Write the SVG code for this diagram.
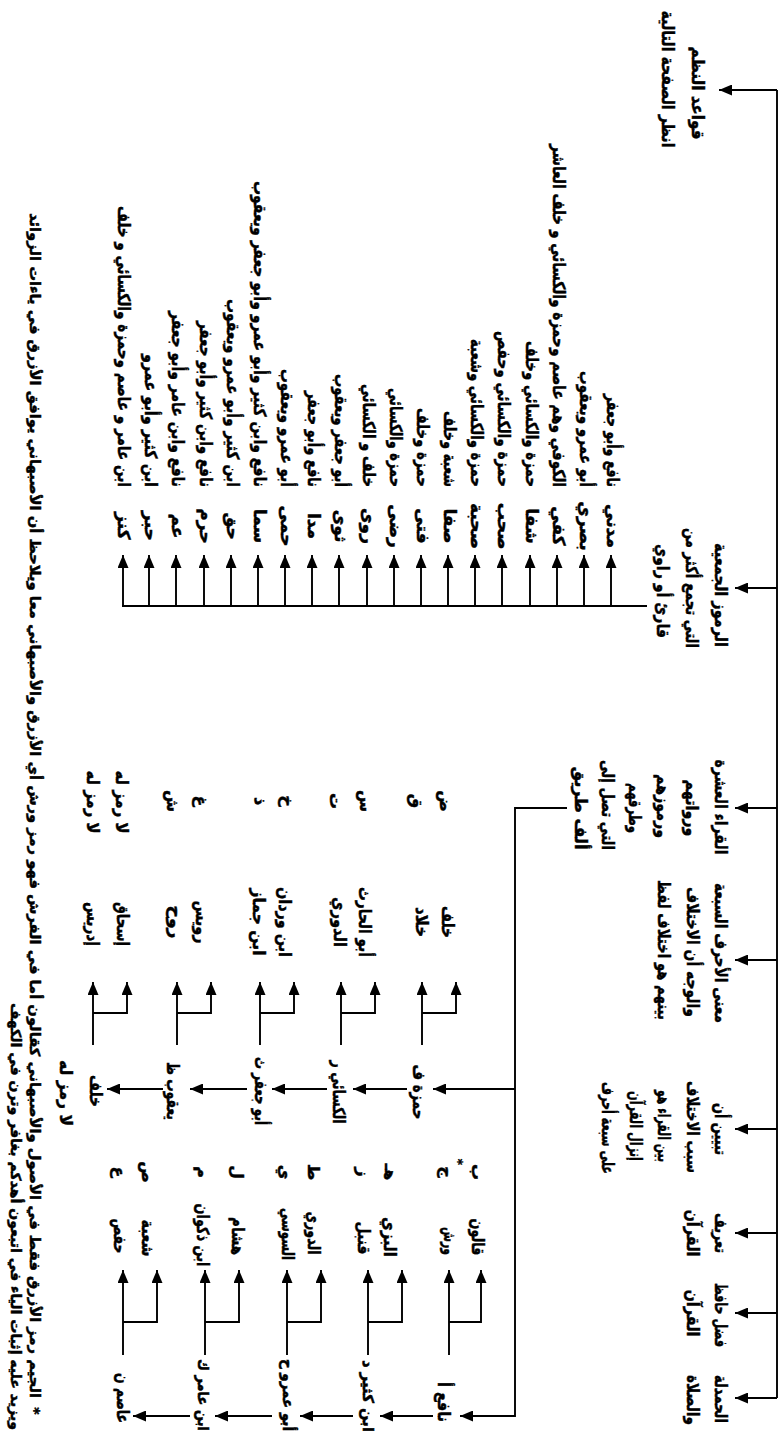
<svg xmlns="http://www.w3.org/2000/svg" width="782" height="1442" viewBox="0 0 782 1442">
<style>
text{font-family:"DejaVu Sans",sans-serif;font-weight:bold;font-size:17px;fill:#000;stroke:#000;stroke-width:0.45}
.c{text-anchor:middle}
.e{text-anchor:end}
.s{font-size:16px}
.r{font-size:15px;stroke-width:0.55}
.f{font-size:14px;stroke-width:0.5}
.ln{fill:none;stroke:#000;stroke-width:1.9}
.ar{fill:none;stroke:#000;stroke-width:1.9;marker-end:url(#ah)}
</style>
<defs>
<marker id="ah" markerUnits="userSpaceOnUse" markerWidth="14" markerHeight="11" refX="13" refY="5.5" orient="auto">
<path d="M0,0 L13,5.5 L0,11 z" fill="#000"/>
</marker>
</defs>
<rect width="782" height="1442" fill="#fff"/>
<g id="connectors">
<line class="ln" x1="777" y1="90" x2="777" y2="1398"/>
<path class="ar" d="M777,90 H719"/>
<path class="ar" d="M777,588 H735"/>
<path class="ar" d="M777,808 H735"/>
<path class="ar" d="M777,960 H735"/>
<path class="ar" d="M777,1129 H735"/>
<path class="ar" d="M777,1233 H735"/>
<path class="ar" d="M777,1313 H735"/>
<path class="ar" d="M777,1398 H735"/>
<path class="ln" d="M647,606 H122"/>
<path class="ar" d="M611,606 V555"/><path class="ar" d="M584,606 V555"/><path class="ar" d="M557,606 V555"/><path class="ar" d="M530,606 V555"/><path class="ar" d="M502,606 V555"/><path class="ar" d="M475,606 V555"/><path class="ar" d="M448,606 V555"/><path class="ar" d="M421,606 V555"/><path class="ar" d="M394,606 V555"/><path class="ar" d="M367,606 V555"/><path class="ar" d="M339,606 V555"/><path class="ar" d="M312,606 V555"/><path class="ar" d="M285,606 V555"/><path class="ar" d="M258,606 V555"/><path class="ar" d="M231,606 V555"/><path class="ar" d="M204,606 V555"/><path class="ar" d="M176,606 V555"/><path class="ar" d="M149,606 V555"/><path class="ar" d="M123,606 V555"/>
<path class="ar" d="M567,808 H515 V1416 H460"/>
<path class="ar" d="M515,1089 H433"/>
<path class="ar" d="M407,1089 H353"/><path class="ar" d="M327,1089 H272"/><path class="ar" d="M247,1089 H190"/><path class="ar" d="M163,1089 H107"/>
<path class="ar" d="M433,1416 H380"/><path class="ar" d="M353,1416 H300"/><path class="ar" d="M272,1416 H215"/><path class="ar" d="M190,1416 H133"/>
<path class="ar" d="M422,1045 V982"/><path class="ar" d="M422,1013 H456 V982"/>
<path class="ar" d="M341,1045 V982"/><path class="ar" d="M341,1013 H375 V982"/>
<path class="ar" d="M260,1045 V982"/><path class="ar" d="M260,1013 H294 V982"/>
<path class="ar" d="M177,1045 V982"/><path class="ar" d="M177,1013 H211 V982"/>
<path class="ar" d="M93,1045 V982"/><path class="ar" d="M93,1013 H127 V982"/>
<path class="ar" d="M449,1355 V1270"/><path class="ar" d="M449,1322 H481 V1270"/>
<path class="ar" d="M368,1355 V1270"/><path class="ar" d="M368,1322 H402 V1270"/>
<path class="ar" d="M287,1355 V1270"/><path class="ar" d="M287,1322 H321 V1270"/>
<path class="ar" d="M205,1355 V1270"/><path class="ar" d="M205,1322 H239 V1270"/>
<path class="ar" d="M123,1355 V1270"/><path class="ar" d="M123,1322 H157 V1270"/>
</g>
<g id="n-qawaid">
<text class="c" x="692" y="93" transform="rotate(90 692 93)" textLength="93" lengthAdjust="spacingAndGlyphs">قواعد النظم</text>
<text class="c" x="662" y="79" transform="rotate(90 662 79)" textLength="137" lengthAdjust="spacingAndGlyphs">انظر الصفحة التالية</text>
</g>
<g id="n-rumuz">
<text class="c" x="715" y="595" transform="rotate(90 715 595)" textLength="104" lengthAdjust="spacingAndGlyphs">الرموز الجمعية</text>
<text class="c" x="686" y="588" transform="rotate(90 686 588)" textLength="120" lengthAdjust="spacingAndGlyphs">التي تجمع أكثر من</text>
<text class="c" x="657" y="591" transform="rotate(90 657 591)" textLength="94" lengthAdjust="spacingAndGlyphs">قارئ أو راوي</text>
</g>
<g id="n-qurra">
<text class="c" x="715" y="807" transform="rotate(90 715 807)" textLength="95" lengthAdjust="spacingAndGlyphs">القراء العشرة</text>
<text class="c" x="686" y="808" transform="rotate(90 686 808)" textLength="57" lengthAdjust="spacingAndGlyphs">ورواتهم</text>
<text class="c" x="657" y="806" transform="rotate(90 657 806)" textLength="64" lengthAdjust="spacingAndGlyphs">ورموزهم</text>
<text class="c" x="629" y="808" transform="rotate(90 629 808)" textLength="50" lengthAdjust="spacingAndGlyphs">وطرقهم</text>
<text class="c" x="602" y="805" transform="rotate(90 602 805)" textLength="90" lengthAdjust="spacingAndGlyphs">التي تصل إلى</text>
<text class="c" x="575" y="808" transform="rotate(90 575 808)" textLength="83" lengthAdjust="spacingAndGlyphs">ألف طريق</text>
</g>
<g id="n-maana">
<text class="c" x="715" y="953" transform="rotate(90 715 953)" textLength="140" lengthAdjust="spacingAndGlyphs">معنى الأحرف السبعة</text>
<text class="c" x="687" y="952" transform="rotate(90 687 952)" textLength="130" lengthAdjust="spacingAndGlyphs">والوجه أن الاختلاف</text>
<text class="c" x="658" y="950" transform="rotate(90 658 950)" textLength="140" lengthAdjust="spacingAndGlyphs">بينهم هو اختلاف لفظ</text>
</g>
<g id="n-tabyin">
<text class="c" x="715" y="1129" transform="rotate(90 715 1129)" textLength="52" lengthAdjust="spacingAndGlyphs">تبيين أن</text>
<text class="c" x="687" y="1127" transform="rotate(90 687 1127)" textLength="92" lengthAdjust="spacingAndGlyphs">سبب الاختلاف</text>
<text class="c" x="658" y="1126" transform="rotate(90 658 1126)" textLength="72" lengthAdjust="spacingAndGlyphs">بين القراء هو</text>
<text class="c" x="630" y="1126" transform="rotate(90 630 1126)" textLength="70" lengthAdjust="spacingAndGlyphs">إنزال القرآن</text>
<text class="c" x="602" y="1128" transform="rotate(90 602 1128)" textLength="92" lengthAdjust="spacingAndGlyphs">على سبعة أحرف</text>
</g>
<g id="n-tarif">
<text class="c" x="715" y="1233" transform="rotate(90 715 1233)" textLength="40" lengthAdjust="spacingAndGlyphs">تعريف</text>
<text class="c" x="687" y="1233" transform="rotate(90 687 1233)" textLength="47" lengthAdjust="spacingAndGlyphs">القرآن</text>
</g>
<g id="n-fadl">
<text class="c" x="715" y="1315" transform="rotate(90 715 1315)" textLength="64" lengthAdjust="spacingAndGlyphs">فضل حافظ</text>
<text class="c" x="687" y="1313" transform="rotate(90 687 1313)" textLength="47" lengthAdjust="spacingAndGlyphs">القرآن</text>
</g>
<g id="n-hamdala">
<text class="c" x="715" y="1399" transform="rotate(90 715 1399)" textLength="48" lengthAdjust="spacingAndGlyphs">الحمدلة</text>
<text class="c" x="687" y="1400" transform="rotate(90 687 1400)" textLength="50" lengthAdjust="spacingAndGlyphs">والصلاة</text>
</g>
<g id="rumuz-columns">
<g id="col-1"><text class="c" x="607" y="526" transform="rotate(90 607 526)">مدني</text><text class="e" x="607" y="487" transform="rotate(90 607 487)" textLength="93" lengthAdjust="spacingAndGlyphs">نافع وأبو جعفر</text></g>
<g id="col-2"><text class="c" x="580" y="526" transform="rotate(90 580 526)">بصري</text><text class="e" x="580" y="487" transform="rotate(90 580 487)" textLength="116" lengthAdjust="spacingAndGlyphs">أبو عمرو ويعقوب</text></g>
<g id="col-3"><text class="c" x="553" y="526" transform="rotate(90 553 526)">كفي</text><text class="e" x="553" y="487" transform="rotate(90 553 487)" textLength="343" lengthAdjust="spacingAndGlyphs">الكوفي وهم عاصم وحمزة والكسائي و خلف العاشر</text></g>
<g id="col-4"><text class="c" x="526" y="526" transform="rotate(90 526 526)">شفا</text><text class="e" x="526" y="487" transform="rotate(90 526 487)" textLength="146" lengthAdjust="spacingAndGlyphs">حمزة والكسائي وخلف</text></g>
<g id="col-5"><text class="c" x="498" y="526" transform="rotate(90 498 526)">صحب</text><text class="e" x="498" y="487" transform="rotate(90 498 487)" textLength="156" lengthAdjust="spacingAndGlyphs">حمزة والكسائي وحفص</text></g>
<g id="col-6"><text class="c" x="471" y="526" transform="rotate(90 471 526)">صحبة</text><text class="e" x="471" y="487" transform="rotate(90 471 487)" textLength="148" lengthAdjust="spacingAndGlyphs">حمزة والكسائي وشعبة</text></g>
<g id="col-7"><text class="c" x="444" y="526" transform="rotate(90 444 526)">صفا</text><text class="e" x="444" y="487" transform="rotate(90 444 487)" textLength="76" lengthAdjust="spacingAndGlyphs">شعبة وخلف</text></g>
<g id="col-8"><text class="c" x="417" y="526" transform="rotate(90 417 526)">فتى</text><text class="e" x="417" y="487" transform="rotate(90 417 487)" textLength="79" lengthAdjust="spacingAndGlyphs">حمزة وخلف</text></g>
<g id="col-9"><text class="c" x="390" y="526" transform="rotate(90 390 526)">رضى</text><text class="e" x="390" y="487" transform="rotate(90 390 487)" textLength="99" lengthAdjust="spacingAndGlyphs">حمزة والكسائي</text></g>
<g id="col-10"><text class="c" x="363" y="526" transform="rotate(90 363 526)">روى</text><text class="e" x="363" y="487" transform="rotate(90 363 487)" textLength="103" lengthAdjust="spacingAndGlyphs">خلف و الكسائي</text></g>
<g id="col-11"><text class="c" x="335" y="526" transform="rotate(90 335 526)">ثوى</text><text class="e" x="335" y="487" transform="rotate(90 335 487)" textLength="113" lengthAdjust="spacingAndGlyphs">أبو جعفر ويعقوب</text></g>
<g id="col-12"><text class="c" x="308" y="526" transform="rotate(90 308 526)">مدا</text><text class="e" x="308" y="487" transform="rotate(90 308 487)" textLength="96" lengthAdjust="spacingAndGlyphs">نافع وأبو جعفر</text></g>
<g id="col-13"><text class="c" x="281" y="526" transform="rotate(90 281 526)">حمى</text><text class="e" x="281" y="487" transform="rotate(90 281 487)" textLength="118" lengthAdjust="spacingAndGlyphs">أبو عمرو ويعقوب</text></g>
<g id="col-14"><text class="c" x="254" y="526" transform="rotate(90 254 526)">سما</text><text class="e" x="254" y="487" transform="rotate(90 254 487)" textLength="306" lengthAdjust="spacingAndGlyphs">نافع وابن كثير وأبو عمرو وأبو جعفر ويعقوب</text></g>
<g id="col-15"><text class="c" x="227" y="526" transform="rotate(90 227 526)">حق</text><text class="e" x="227" y="487" transform="rotate(90 227 487)" textLength="188" lengthAdjust="spacingAndGlyphs">ابن كثير وأبو عمرو ويعقوب</text></g>
<g id="col-16"><text class="c" x="200" y="526" transform="rotate(90 200 526)">حرم</text><text class="e" x="200" y="487" transform="rotate(90 200 487)" textLength="166" lengthAdjust="spacingAndGlyphs">نافع وابن كثير وأبو جعفر</text></g>
<g id="col-17"><text class="c" x="172" y="526" transform="rotate(90 172 526)">عم</text><text class="e" x="172" y="487" transform="rotate(90 172 487)" textLength="176" lengthAdjust="spacingAndGlyphs">نافع وابن عامر وأبو جعفر</text></g>
<g id="col-18"><text class="c" x="145" y="526" transform="rotate(90 145 526)">حبر</text><text class="e" x="145" y="487" transform="rotate(90 145 487)" textLength="133" lengthAdjust="spacingAndGlyphs">ابن كثير وأبو عمرو</text></g>
<g id="col-19"><text class="c" x="118" y="526" transform="rotate(90 118 526)">كنز</text><text class="e" x="118" y="487" transform="rotate(90 118 487)" textLength="281" lengthAdjust="spacingAndGlyphs">ابن عامر و عاصم وحمزة والكسائي و خلف</text></g>
</g>
<g id="readers-row2">
<g id="r-hamza"><text class="c" x="413" y="1092" transform="rotate(90 413 1092)" textLength="55" lengthAdjust="spacingAndGlyphs">حمزة ف</text>
<text class="c" x="442" y="922" transform="rotate(90 442 922)" textLength="32" lengthAdjust="spacingAndGlyphs">خلف</text><text class="c" x="416" y="922" transform="rotate(90 416 922)" textLength="30" lengthAdjust="spacingAndGlyphs">خلاد</text>
<text class="c s" x="440" y="801" transform="rotate(90 440 801)">ض</text><text class="c s" x="410" y="801" transform="rotate(90 410 801)">ق</text></g>
<g id="r-kisai"><text class="c" x="333" y="1092" transform="rotate(90 333 1092)" textLength="63" lengthAdjust="spacingAndGlyphs">الكسائي ر</text>
<text class="c" x="359" y="922" transform="rotate(90 359 922)" textLength="70" lengthAdjust="spacingAndGlyphs">أبو الحارث</text><text class="c" x="334" y="922" transform="rotate(90 334 922)" textLength="50" lengthAdjust="spacingAndGlyphs">الدوري</text>
<text class="c s" x="360" y="801" transform="rotate(90 360 801)">س</text><text class="c s" x="330" y="801" transform="rotate(90 330 801)">ت</text></g>
<g id="r-abujafar"><text class="c" x="255" y="1091" transform="rotate(90 255 1091)" textLength="68" lengthAdjust="spacingAndGlyphs">أبو جعفر ث</text>
<text class="c" x="279" y="922" transform="rotate(90 279 922)" textLength="70" lengthAdjust="spacingAndGlyphs">ابن وردان</text><text class="c" x="253" y="922" transform="rotate(90 253 922)" textLength="67" lengthAdjust="spacingAndGlyphs">ابن جماز</text>
<text class="c s" x="282" y="801" transform="rotate(90 282 801)">خ</text><text class="c s" x="255" y="801" transform="rotate(90 255 801)">ذ</text></g>
<g id="r-yaqub"><text class="c" x="167" y="1091" transform="rotate(90 167 1091)" textLength="58" lengthAdjust="spacingAndGlyphs">يعقوب ظ</text>
<text class="c" x="196" y="922" transform="rotate(90 196 922)" textLength="43" lengthAdjust="spacingAndGlyphs">رويس</text><text class="c" x="170" y="922" transform="rotate(90 170 922)" textLength="33" lengthAdjust="spacingAndGlyphs">روح</text>
<text class="c s" x="196" y="801" transform="rotate(90 196 801)">غ</text><text class="c s" x="167" y="801" transform="rotate(90 167 801)">ش</text></g>
<g id="r-khalaf"><text class="c" x="90" y="1091" transform="rotate(90 90 1091)" textLength="32" lengthAdjust="spacingAndGlyphs">خلف</text>
<text class="c" x="60" y="1093" transform="rotate(90 60 1093)" textLength="66" lengthAdjust="spacingAndGlyphs">لا رمز له</text>
<text class="c" x="117" y="924" transform="rotate(90 117 924)" textLength="44" lengthAdjust="spacingAndGlyphs">إسحاق</text><text class="c" x="87" y="924" transform="rotate(90 87 924)" textLength="44" lengthAdjust="spacingAndGlyphs">إدريس</text>
<text class="c" x="116" y="802" transform="rotate(90 116 802)" textLength="63" lengthAdjust="spacingAndGlyphs">لا رمز له</text><text class="c" x="87" y="802" transform="rotate(90 87 802)" textLength="63" lengthAdjust="spacingAndGlyphs">لا رمز له</text></g>
</g>
<g id="readers-row1">
<g id="r-nafi"><text class="c" x="438" y="1402" transform="rotate(90 438 1402)" textLength="40" lengthAdjust="spacingAndGlyphs">نافع أ</text>
<text class="c" x="472" y="1237" transform="rotate(90 472 1237)" textLength="37" lengthAdjust="spacingAndGlyphs">قالون</text><text class="c" x="444" y="1241" transform="rotate(90 444 1241)" textLength="28" lengthAdjust="spacingAndGlyphs">ورش</text>
<text class="c s" x="472" y="1172" transform="rotate(90 472 1172)">ب</text><text class="c s" x="441" y="1172" transform="rotate(90 441 1172)">ج</text><text class="c" x="454" y="1162" transform="rotate(90 454 1162)" style="font-size:12px">*</text></g>
<g id="r-ibnkathir"><text class="c r" x="363" y="1396" transform="rotate(90 363 1396)" textLength="72" lengthAdjust="spacingAndGlyphs">ابن كثير د</text>
<text class="c" x="384" y="1237" transform="rotate(90 384 1237)" textLength="40" lengthAdjust="spacingAndGlyphs">البزي</text><text class="c" x="358" y="1238" transform="rotate(90 358 1238)" textLength="33" lengthAdjust="spacingAndGlyphs">قنبل</text>
<text class="c s" x="385" y="1172" transform="rotate(90 385 1172)">هـ</text><text class="c s" x="358" y="1172" transform="rotate(90 358 1172)">ز</text></g>
<g id="r-abuamr"><text class="c r" x="283" y="1395" transform="rotate(90 283 1395)" textLength="72" lengthAdjust="spacingAndGlyphs">أبو عمرو ح</text>
<text class="c" x="308" y="1233" transform="rotate(90 308 1233)" textLength="43" lengthAdjust="spacingAndGlyphs">الدوري</text><text class="c" x="282" y="1234" transform="rotate(90 282 1234)" textLength="52" lengthAdjust="spacingAndGlyphs">السوسي</text>
<text class="c s" x="308" y="1172" transform="rotate(90 308 1172)">ط</text><text class="c s" x="280" y="1172" transform="rotate(90 280 1172)">ي</text></g>
<g id="r-ibnamir"><text class="c r" x="198" y="1395" transform="rotate(90 198 1395)" textLength="72" lengthAdjust="spacingAndGlyphs">ابن عامر ك</text>
<text class="c" x="232" y="1236" transform="rotate(90 232 1236)" textLength="38" lengthAdjust="spacingAndGlyphs">هشام</text><text class="c" x="197" y="1235" transform="rotate(90 197 1235)" textLength="63" lengthAdjust="spacingAndGlyphs">ابن ذكوان</text>
<text class="c s" x="232" y="1172" transform="rotate(90 232 1172)">ل</text><text class="c s" x="197" y="1172" transform="rotate(90 197 1172)">م</text></g>
<g id="r-asim"><text class="c" x="117" y="1398" transform="rotate(90 117 1398)" textLength="50" lengthAdjust="spacingAndGlyphs">عاصم ن</text>
<text class="c" x="142" y="1238" transform="rotate(90 142 1238)" textLength="37" lengthAdjust="spacingAndGlyphs">شعبة</text><text class="c" x="114" y="1236" transform="rotate(90 114 1236)" textLength="35" lengthAdjust="spacingAndGlyphs">حفص</text>
<text class="c s" x="142" y="1172" transform="rotate(90 142 1172)">ص</text><text class="c s" x="114" y="1172" transform="rotate(90 114 1172)">ع</text></g>
</g>
<g id="footnote">
<text class="c f" x="30" y="1411" transform="rotate(90 30 1411)">*</text>
<text class="e f" x="30" y="1398" transform="rotate(90 30 1398)" textLength="1185" lengthAdjust="spacingAndGlyphs">الجيم رمز الأزرق فقط في الأصول والأصبهاني كقالون أما في الفرش فهو رمز ورش أي الأزرق والأصبهاني معا ويلاحظ أن الأصبهاني يوافق الأزرق في ياءات الزوائد</text>
<text class="e f" x="11" y="1430" transform="rotate(90 11 1430)" textLength="427" lengthAdjust="spacingAndGlyphs">ويزيد عليه إثبات الياء في اتبعون أهدكم بغافر وترن في الكهف</text>
</g>
</svg>
